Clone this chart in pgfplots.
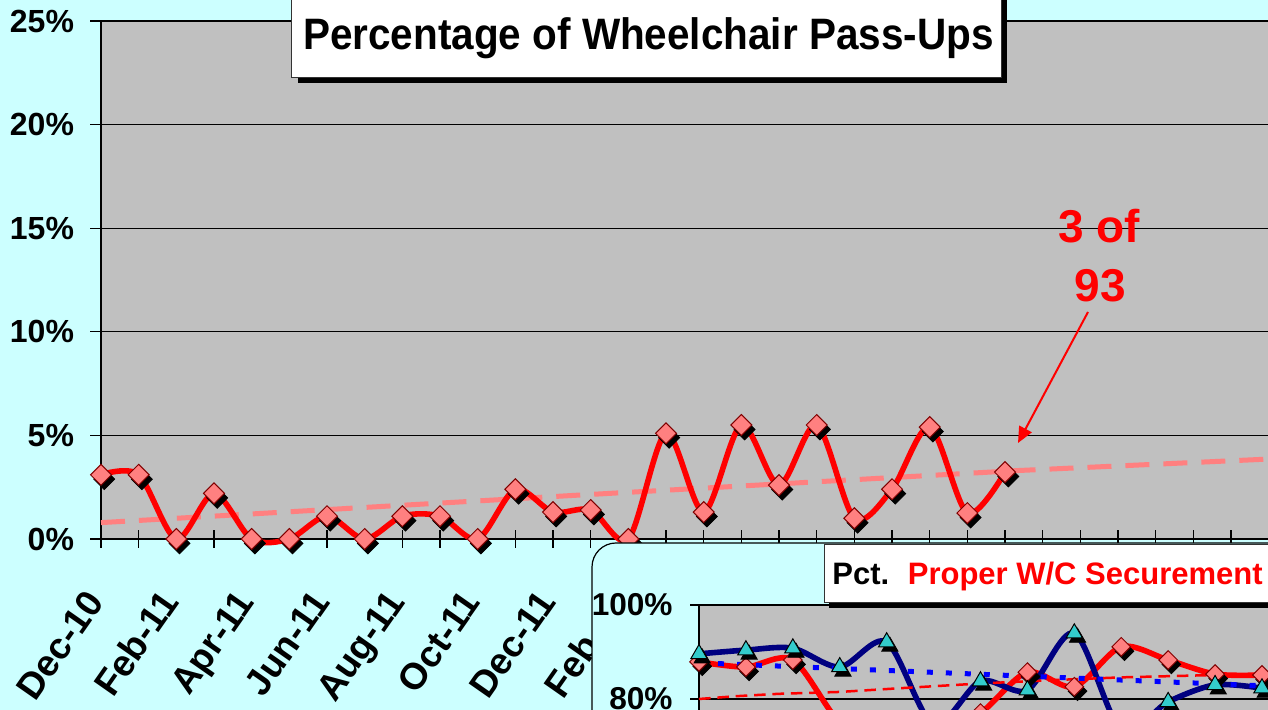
\documentclass[border=0pt]{standalone}
\usepackage{pgfplots}
\usepackage{pgfplotstable}
\pgfplotsset{compat=1.18}
\usepackage{fontspec}
\setmainfont{Liberation Sans}
\usetikzlibrary{arrows.meta}
\definecolor{bgcyan}{HTML}{CCFFFF}
\definecolor{plotgray}{HTML}{C0C0C0}
\definecolor{salmon}{HTML}{FF8080}
\definecolor{navyc}{HTML}{000080}
\definecolor{tealc}{HTML}{33CCCC}
\definecolor{dred}{HTML}{800000}

\pgfplotstableread{
x y
0 3.1
1 3.1
2 0
3 2.2
4 0
5 0
6 1.1
7 0
8 1.1
9 1.1
10 0
11 2.4
12 1.3
13 1.4
14 0
15 5.1
16 1.3
17 5.5
18 2.6
19 5.5
20 1.0
21 2.4
22 5.4
23 1.25
24 3.23
}\mainser

\pgfplotstableread{
x y
0 0.79
12.7 2.12
24.3 3.30
30.9 3.85
32 3.94
}\maintrend

\pgfplotstableread{
x y
0 89.6
1 90.4
2 90.8
3 86.8
4 92.1
5 74.5
6 83.8
7 81.9
8 94.0
9 73.4
10 79.4
11 83.0
12 82.3
}\navyser

\pgfplotstableread{
x y
0 87.9
1 86.8
2 88.3
3 75
4 70
5 72
6 77.0
7 85.7
8 82.6
9 91.1
10 88.3
11 85.3
12 85.1
}\redser

\pgfplotstableread{
x y
0 87.7
14 82.0
}\bluetrend

\pgfplotstableread{
x y
0 80.0
0.8 80.6
1.7 81.1
3 81.5
4.3 82.3
6 83.3
7.5 84.0
9 84.6
11 85.1
12.2 85.3
14 85.6
}\redtrend

\begin{document}
\begin{tikzpicture}
\path[use as bounding box] (0,0) rectangle (634pt,355pt);
\clip (0,0) rectangle (634pt,355pt);
\fill[bgcyan] (0,0) rectangle (634pt,355pt);

\begin{axis}[
  at={(50.5pt,85.5pt)}, anchor=south west,
  scale only axis, width=602.7pt, height=259pt,
  xmin=0, xmax=32, ymin=0, ymax=25,
  clip=false,
  axis background/.style={fill=plotgray},
  axis x line=bottom, axis y line=left,
  axis line style={-, draw=black, line width=0.8pt},
  ytick={0,5,10,15,20,25},
  yticklabels={0\%,5\%,10\%,15\%,20\%,25\%},
  xtick={0,...,32},
  xticklabels={Dec-10,,Feb-11,,Apr-11,,Jun-11,,Aug-11,,Oct-11,,Dec-11,,Feb-12},
  ymajorgrids,
  major grid style={black, line width=0.6pt},
  xtick align=center, ytick align=outside,
  major tick length=5.3pt,
  tick style={black, line width=0.6pt},
  xtick style={/pgfplots/major tick length=9pt},
  yticklabel style={font=\bfseries\fontsize{16}{16}\selectfont, inner sep=0pt, anchor=east, xshift=-8pt},
  xticklabel style={font=\bfseries\fontsize{18.5}{18.5}\selectfont, inner sep=0pt, text height=0.72em, text depth=0.2em, anchor=east, xshift=0pt, yshift=-27.5pt, rotate=55},
]
\addplot[salmon, line width=2.5pt, dash pattern=on 12pt off 7pt] table {\maintrend};
\addplot[red, line width=2.8pt, smooth, no markers] table {\mainser};
\addplot[only marks, mark=square*, mark size=3.7pt, mark options={xshift=1.6pt, yshift=-2.2pt, rotate=45, fill=black, draw=black}] table {\mainser};
\addplot[only marks, mark=square*, mark size=3.7pt, mark options={rotate=45, fill=salmon, draw=dred, line width=0.5pt}] table {\mainser};
\end{axis}

% title box
\fill[black] (148.85pt,313.35pt) rectangle (503.35pt,360pt);
\filldraw[fill=white, draw=black!80, line width=0.5pt] (145.85pt,316.35pt) rectangle (500.85pt,360pt);
\node[anchor=base west, inner sep=0pt] at (151.35pt,330pt) {\scalebox{0.92}[1]{\fontsize{22}{24}\selectfont\bfseries Percentage of Wheelchair Pass-Ups}};

% annotation
\node[anchor=base, inner sep=0pt, text=red, font=\bfseries\fontsize{23}{23}\selectfont] at (549.5pt,233.5pt) {3 of};
\node[anchor=base, inner sep=0pt, text=red, font=\bfseries\fontsize{23}{23}\selectfont] at (550pt,204pt) {93};
\draw[red, line width=1pt, -{Triangle[length=8pt,width=7pt]}] (544pt,199pt) -- (509pt,133.5pt);

% inset
\filldraw[fill=bgcyan, draw=black, line width=0.6pt, rounded corners=12pt] (296pt,-40pt) rectangle (720pt,83.5pt);
\begin{axis}[
  at={(349.5pt,52.5pt)}, anchor=north west,
  scale only axis, width=328.4pt, height=141pt,
  xmin=0, xmax=14, ymin=40, ymax=100,
  clip=false,
  axis background/.style={fill=plotgray},
  axis x line=bottom, axis y line=left,
  axis line style={-, draw=black, line width=0.8pt},
  ytick={40,60,80,100},
  yticklabels={40\%,60\%,80\%,100\%},
  xtick=\empty,
  ymajorgrids,
  major grid style={black, line width=0.6pt},
  ytick align=outside,
  major tick length=4.5pt,
  tick style={black, line width=0.6pt},
  yticklabel style={font=\bfseries\fontsize{15.8}{16}\selectfont, inner sep=0pt, anchor=east, xshift=-8.5pt},
]
\addplot[red, line width=2.8pt, smooth, no markers] table {\redser};
\addplot[only marks, mark=square*, mark size=3.3pt, mark options={xshift=1.6pt, yshift=-2.2pt, rotate=45, fill=black, draw=black}] table {\redser};
\addplot[only marks, mark=square*, mark size=3.3pt, mark options={rotate=45, fill=salmon, draw=dred, line width=0.5pt}] table {\redser};
\addplot[navyc, line width=2.8pt, smooth, no markers] table {\navyser};
\addplot[only marks, mark=triangle*, mark size=4.7pt, mark options={xshift=1.6pt, yshift=-2.2pt, fill=black, draw=black}] table {\navyser};
\addplot[only marks, mark=triangle*, mark size=4.7pt, mark options={fill=tealc, draw=black, line width=0.5pt}] table {\navyser};
\addplot[blue, line width=2.5pt, dash pattern=on 3pt off 6.5pt] table {\bluetrend};
\addplot[red, line width=1.25pt, dash pattern=on 5.8pt off 3.4pt] table {\redtrend};
\end{axis}

% inset title box
\fill[black] (414.3pt,50.85pt) rectangle (720pt,79.5pt);
\filldraw[fill=white, draw=black!80, line width=0.5pt] (412.3pt,53.65pt) rectangle (720pt,82.5pt);
\node[anchor=base west, inner sep=0pt, font=\bfseries\fontsize{15.5}{16}\selectfont] at (416pt,62.5pt) {Pct.\hspace{0.6em}\textcolor{red}{Proper W/C Securement}};
\end{tikzpicture}
\end{document}
